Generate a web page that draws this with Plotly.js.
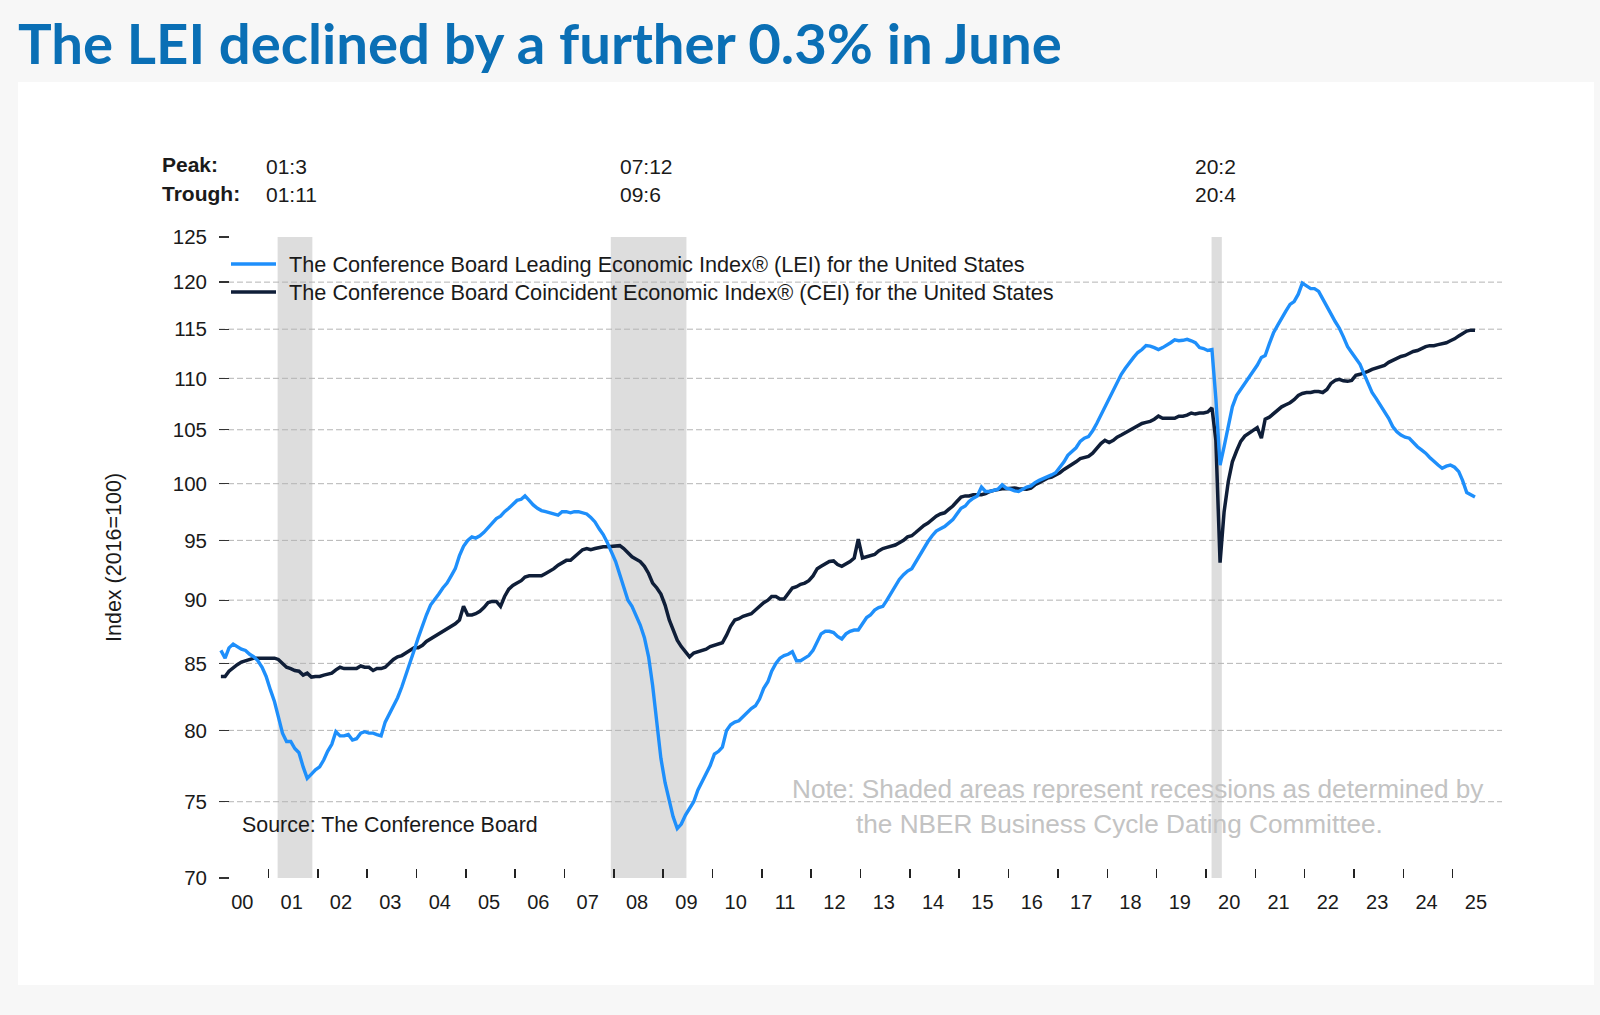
<!DOCTYPE html>
<html>
<head>
<meta charset="utf-8">
<script src="https://cdn.plot.ly/plotly-3.0.1.min.js"></script>
<style>
  html, body { margin: 0; padding: 0; background: #f7f7f7; }
  #chart { width: 1600px; height: 1015px; }
</style>
</head>
<body>
<div id="chart"></div>
<script>
// ---------------- DATA ----------------
const startYear = 2000;           // first observation: January 2000, monthly (plotted mid-month)
// The Conference Board Leading Economic Index (LEI), 2016=100, Jan 2000 – Jun 2025
const lei = [
  86.0, 85.4, 86.2, 86.5, 86.3, 86.1, 86.0, 85.7, 85.5, 85.2, 84.7, 84.0,   // 2000
  83.0, 82.1, 81.0, 79.8, 79.2, 79.2, 78.7, 78.4, 77.4, 76.6, 76.9, 77.2,   // 2001
  77.4, 77.9, 78.5, 79.0, 79.9, 79.6, 79.6, 79.7, 79.3, 79.4, 79.8, 79.9,   // 2002
  79.8, 79.8, 79.7, 79.6, 80.6, 81.2, 81.7, 82.4, 83.2, 84.1, 84.9, 86.0,   // 2003
  87.0, 88.0, 88.8, 89.6, 90.0, 90.5, 91.0, 91.4, 92.0, 92.6, 93.7, 94.5,   // 2004
  95.0, 95.3, 95.2, 95.4, 95.7, 96.1, 96.5, 96.9, 97.1, 97.5, 97.8, 98.1,   // 2005
  98.5, 98.6, 98.9, 98.5, 98.1, 97.8, 97.6, 97.5, 97.4, 97.3, 97.2, 97.5,   // 2006
  97.5, 97.4, 97.5, 97.5, 97.4, 97.3, 97.0, 96.6, 96.0, 95.5, 94.8, 94.0,   // 2007
  93.2, 92.1, 91.0, 90.0, 89.5, 88.8, 88.0, 87.0, 85.5, 83.3, 80.3, 78.0,   // 2008
  76.3, 75.2, 74.0, 73.2, 73.5, 74.1, 74.6, 75.0, 75.8, 76.4, 76.9, 77.5,   // 2009
  78.3, 78.5, 78.8, 80.0, 80.4, 80.6, 80.7, 81.0, 81.3, 81.6, 81.8, 82.3,   // 2010
  83.1, 83.6, 84.4, 85.0, 85.4, 85.6, 85.7, 85.9, 85.2, 85.2, 85.4, 85.6,   // 2011
  86.0, 86.6, 87.3, 87.5, 87.5, 87.4, 87.1, 86.9, 87.3, 87.5, 87.6, 87.6,   // 2012
  88.1, 88.6, 88.8, 89.2, 89.4, 89.5, 90.0, 90.6, 91.2, 91.7, 92.1, 92.4,   // 2013
  92.6, 93.2, 93.8, 94.3, 94.9, 95.4, 95.8, 96.0, 96.2, 96.5, 96.8, 97.3,   // 2014
  97.8, 98.0, 98.4, 98.7, 98.9, 99.7, 99.3, 99.3, 99.4, 99.5, 99.9, 99.6,   // 2015
  99.5, 99.35, 99.3, 99.5, 99.7, 99.8, 100.1, 100.3, 100.45, 100.6, 100.8, 101.0, // 2016
  101.5, 102.0, 102.6, 103.0, 103.3, 103.9, 104.2, 104.35, 104.9, 105.6, 106.4, 107.2, // 2017
  108.0, 108.8, 109.6, 110.4, 111.0, 111.6, 112.1, 112.6, 112.9, 113.3, 113.25, 113.1, // 2018
  112.9, 113.1, 113.3, 113.6, 113.9, 113.8, 113.85, 113.95, 113.8, 113.6, 113.1, 113.0, // 2019
  112.8, 112.9, 108.0, 101.7, 103.4, 105.5, 107.2, 108.3, 108.9, 109.5, 110.1, 110.7, // 2020
  111.3, 112.1, 112.3, 113.5, 114.6, 115.4, 116.2, 116.9, 117.6, 117.9, 118.7, 119.9, // 2021
  119.6, 119.3, 119.3, 119.0, 118.2, 117.3, 116.6, 115.8, 115.1, 114.2, 113.2, 112.6, // 2022
  112.0, 111.4, 110.5, 109.6, 108.6, 108.0, 107.4, 106.8, 106.1, 105.3, 104.8, 104.5, // 2023
  104.3, 104.2, 103.8, 103.4, 103.1, 102.8, 102.4, 102.0, 101.7, 101.4, 101.6, 101.7, // 2024
  101.5, 101.1, 100.3, 99.2, 99.0, 98.8                                          // 2025
];
// The Conference Board Coincident Economic Index (CEI), 2016=100
const cei = [
  84.0, 84.0, 84.4, 84.7, 84.9, 85.1, 85.2, 85.35, 85.4, 85.4, 85.4, 85.45, // 2000
  85.4, 85.4, 85.3, 85.0, 84.7, 84.6, 84.45, 84.4, 84.1, 84.25, 83.95, 84.0, // 2001
  84.0, 84.1, 84.2, 84.25, 84.5, 84.7, 84.6, 84.6, 84.6, 84.6, 84.8, 84.7,  // 2002
  84.7, 84.45, 84.6, 84.6, 84.7, 85.0, 85.3, 85.5, 85.6, 85.8, 86.0, 86.2,  // 2003
  86.2, 86.4, 86.7, 86.9, 87.1, 87.3, 87.5, 87.7, 87.9, 88.1, 88.4, 89.5,   // 2004
  88.8, 88.8, 88.9, 89.1, 89.4, 89.8, 89.9, 89.9, 89.5, 90.3, 90.9, 91.2,   // 2005
  91.4, 91.6, 91.9, 92.0, 92.0, 92.0, 92.0, 92.2, 92.4, 92.6, 92.9, 93.1,   // 2006
  93.3, 93.3, 93.6, 93.9, 94.2, 94.3, 94.2, 94.3, 94.4, 94.45, 94.45, 94.5, // 2007
  94.55, 94.55, 94.3, 93.9, 93.6, 93.4, 93.2, 92.8, 92.2, 91.4, 91.0, 90.5, // 2008
  89.6, 88.4, 87.6, 86.8, 86.3, 85.9, 85.5, 85.8, 85.9, 85.95, 86.1, 86.3,  // 2009
  86.4, 86.5, 86.6, 87.2, 87.9, 88.4, 88.5, 88.7, 88.8, 88.9, 89.2, 89.5,   // 2010
  89.8, 90.0, 90.3, 90.3, 90.1, 90.1, 90.6, 91.0, 91.1, 91.3, 91.4, 91.6,   // 2011
  92.0, 92.6, 92.8, 93.0, 93.2, 93.25, 92.95, 92.8, 93.0, 93.2, 93.5, 95.1, // 2012
  93.5, 93.6, 93.7, 93.8, 94.1, 94.3, 94.4, 94.5, 94.6, 94.8, 95.0, 95.3,   // 2013
  95.4, 95.7, 96.0, 96.3, 96.5, 96.8, 97.1, 97.3, 97.4, 97.7, 98.0, 98.4,   // 2014
  98.8, 98.9, 98.9, 99.0, 99.0, 99.0, 99.1, 99.3, 99.4, 99.5, 99.55, 99.55, // 2015
  99.6, 99.6, 99.55, 99.55, 99.5, 99.6, 99.9, 100.1, 100.3, 100.5, 100.6, 100.8, // 2016
  101.0, 101.3, 101.5, 101.8, 102.0, 102.3, 102.4, 102.5, 102.8, 103.3, 103.7, 104.0, // 2017
  103.8, 104.0, 104.3, 104.5, 104.7, 104.9, 105.1, 105.4, 105.6, 105.7, 105.8, 106.0, // 2018
  106.3, 106.1, 106.1, 106.1, 106.1, 106.3, 106.3, 106.4, 106.6, 106.5, 106.6, 106.6, // 2019
  106.7, 107.1, 104.0, 93.1, 97.5, 100.2, 102.0, 103.0, 103.9, 104.4, 104.7, 104.9,  // 2020
  105.2, 104.2, 106.0, 106.2, 106.5, 106.8, 107.2, 107.4, 107.6, 107.9, 108.3, 108.5, // 2021
  108.6, 108.6, 108.7, 108.7, 108.6, 108.9, 109.5, 109.8, 109.9, 109.75, 109.7, 109.8, // 2022
  110.3, 110.4, 110.5, 110.7, 110.9, 111.05, 111.2, 111.3, 111.6, 111.8, 112.0, 112.2, // 2023
  112.3, 112.5, 112.7, 112.8, 113.0, 113.2, 113.3, 113.3, 113.4, 113.5, 113.6, 113.8, // 2024
  114.0, 114.3, 114.5, 114.8, 114.9, 114.9                                         // 2025
];
// NBER recessions: shaded from the peak month to the trough month
const recStart = ['2001-03-10', '2007-12-10', '2020-02-12'];
const recEnd   = ['2001-11-22', '2009-06-22', '2020-04-28'];
const peakLabels   = ['01:3', '07:12', '20:2'];
const troughLabels = ['01:11', '09:6', '20:4'];
// axis ticks
const yTicks = [70, 75, 80, 85, 90, 95, 100, 105, 110, 115, 120, 125];
const yGrid  = [75, 80, 85, 90, 95, 100, 105, 110, 115, 120];
const yearLabels = ['00','01','02','03','04','05','06','07','08','09','10','11','12',
                    '13','14','15','16','17','18','19','20','21','22','23','24','25'];
const seriesNames = [
  'The Conference Board Leading Economic Index® (LEI) for the United States',
  'The Conference Board Coincident Economic Index® (CEI) for the United States'
];
const seriesColors = ['#1e8ffb', '#0f1e38'];
const titleText = 'The LEI declined by a further 0.3% in June';
const noteLines = ['Note: Shaded areas represent recessions as determined by',
                   'the NBER Business Cycle Dating Committee.'];

// ---------------- BUILD ----------------
function pad2(n) { return (n < 10 ? '0' : '') + n; }
const dates = lei.map((_, i) => (startYear + Math.floor(i / 12)) + '-' + pad2(i % 12 + 1) + '-15');
const yearStarts = yearLabels.slice(1).map((_, i) => (startYear + i + 1) + '-01-01');
const yearMids = yearLabels.map((_, i) => (startYear + i) + '-06-22');

// plot-area geometry (px)
const L = 219, R = 1502, T = 237, B = 878;
const W = R - L, H = B - T;
const px = v => (v - L) / W;
const py = v => (B - v) / H;

const FONT = 'Liberation Sans, Arial, Helvetica, sans-serif';
const TXT = '#1a1a1a';

const traces = [
  { x: dates, y: cei, name: seriesNames[1], type: 'scatter', mode: 'lines',
    line: { color: seriesColors[1], width: 3.5 }, showlegend: false, hoverinfo: 'x+y' },
  { x: dates, y: lei, name: seriesNames[0], type: 'scatter', mode: 'lines',
    line: { color: seriesColors[0], width: 3.4 }, showlegend: false, hoverinfo: 'x+y' }
];

const shapes = [
  // white card behind the chart
  { type: 'rect', xref: 'paper', yref: 'paper', x0: px(18), x1: px(1594), y0: py(985), y1: py(82),
    fillcolor: '#ffffff', line: { width: 0 }, layer: 'below' }
];
recStart.forEach((s, i) => shapes.push({
  type: 'rect', xref: 'x', yref: 'paper', x0: s, x1: recEnd[i], y0: 0, y1: 1,
  fillcolor: '#dddddd', line: { width: 0 }, layer: 'below'
}));
// dashed horizontal gridlines (75 … 120)
yGrid.forEach(v => shapes.push({
  type: 'line', xref: 'paper', yref: 'y', x0: 0, x1: 1, y0: v, y1: v,
  line: { color: '#b4b4b4', width: 1, dash: '6px,3px' }, layer: 'below'
}));
// legend key lines
const legendRows = [264, 292];
seriesNames.forEach((n, i) => shapes.push({
  type: 'line', xref: 'paper', yref: 'paper', x0: px(231), x1: px(276), y0: py(legendRows[i]), y1: py(legendRows[i]),
  line: { color: seriesColors[i], width: 3.4 }, layer: 'above'
}));

const annotations = [
  { text: '<b>Peak:</b>', xref: 'paper', yref: 'paper', x: px(160), y: py(164), xanchor: 'left', yanchor: 'middle', showarrow: false, font: { family: FONT, size: 21, color: TXT } },
  { text: '<b>Trough:</b>', xref: 'paper', yref: 'paper', x: px(160), y: py(194), xanchor: 'left', yanchor: 'middle', showarrow: false, font: { family: FONT, size: 21, color: TXT } },
  { text: 'Source: The Conference Board', xref: 'paper', yref: 'paper', x: px(240), y: py(825), xanchor: 'left', yanchor: 'middle', showarrow: false, font: { family: FONT, size: 21.4, color: TXT } },
  { text: noteLines[0], xref: 'paper', yref: 'paper', x: px(1138), y: py(789), xanchor: 'center', yanchor: 'middle', showarrow: false, font: { family: FONT, size: 26.2, color: '#c3c3c3' } },
  { text: noteLines[1], xref: 'paper', yref: 'paper', x: px(1119), y: py(823.5), xanchor: 'center', yanchor: 'middle', showarrow: false, font: { family: FONT, size: 26.2, color: '#c3c3c3' } },
  { text: 'Index (2016=100)', xref: 'paper', yref: 'paper', x: px(114), y: py(558), xanchor: 'center', yanchor: 'middle', textangle: -90, showarrow: false, font: { family: FONT, size: 21.5, color: TXT } }
];
seriesNames.forEach((n, i) => annotations.push({
  text: n, xref: 'paper', yref: 'paper', x: px(287), y: py(legendRows[i]), xanchor: 'left', yanchor: 'middle',
  showarrow: false, font: { family: FONT, size: 21.7, color: TXT }
}));
const peakX = [264, 618, 1193];
peakLabels.forEach((t, i) => {
  annotations.push({ text: t, xref: 'paper', yref: 'paper', x: px(peakX[i]), y: py(166), xanchor: 'left', yanchor: 'middle', showarrow: false, font: { family: FONT, size: 21, color: TXT } });
  annotations.push({ text: troughLabels[i], xref: 'paper', yref: 'paper', x: px(peakX[i]), y: py(195), xanchor: 'left', yanchor: 'middle', showarrow: false, font: { family: FONT, size: 21, color: TXT } });
});

const layout = {
  width: 1600, height: 1015,
  margin: { l: L, r: 1600 - R, t: T, b: 1015 - B, pad: 0 },
  paper_bgcolor: '#f7f7f7', plot_bgcolor: '#ffffff',
  title: { text: '<b>' + titleText + '</b>', xref: 'container', yref: 'container', x: 18 / 1600, xanchor: 'left',
           y: 1 - 44 / 1015, yanchor: 'middle', font: { family: 'Lato, Open Sans, sans-serif', size: 56.3, color: '#0a6fb5' } },
  showlegend: false,
  xaxis: {
    type: 'date', range: ['2000-01-01', '2026-01-01'],
    tickvals: yearMids, ticktext: yearLabels, ticks: '', showgrid: false, showline: false, zeroline: false,
    tickfont: { family: FONT, size: 20, color: TXT }, ticklabelstandoff: 10,
    minor: { tickvals: yearStarts, ticks: 'inside', ticklen: 9, tickwidth: 1.5, tickcolor: '#222', showgrid: false }
  },
  yaxis: {
    type: 'log', range: [Math.log10(70), Math.log10(125)],
    tickvals: yTicks, ticktext: yTicks.map(String), ticks: '',
    showgrid: false, showline: false, zeroline: false,
    tickfont: { family: FONT, size: 20.5, color: TXT }, ticklabelstandoff: 11,
    minor: { tickvals: yTicks, ticks: 'inside', ticklen: 10, tickwidth: 1.3, tickcolor: '#333', showgrid: false }
  },
  shapes: shapes,
  annotations: annotations
};

Plotly.newPlot('chart', traces, layout, { displayModeBar: false, staticPlot: true });
</script>
</body>
</html>
